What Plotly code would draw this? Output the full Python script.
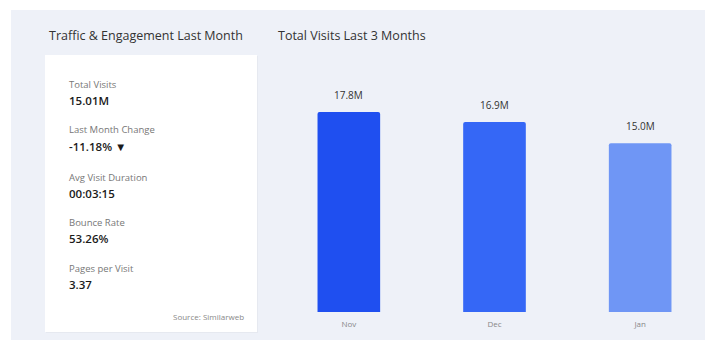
import plotly.graph_objects as go

W, H = 713, 347
OFF = 8  # page body margin in the browser

# ---- data ----
months = ["Nov", "Dec", "Jan"]
visits_m = [17.8, 16.9, 15.01]
bar_labels = ["17.8M", "16.9M", "15.0M"]
bar_colors = ["#1f4ff0", "#3567f6", "#6f96f5"]

kpi_labels = ["Total Visits", "Last Month Change", "Avg Visit Duration", "Bounce Rate", "Pages per Visit"]
kpi_values = ["15.01M", "-11.18% ▼", "00:03:15", "53.26%", "3.37"]
source_note = "Source: Similarweb"

left_title = "Traffic & Engagement Last Month"
right_title = "Total Visits Last 3 Months"


def px(x):
    return (x - OFF) / W


def py(y):
    return 1 - (y - OFF) / H


FONT = "Open Sans, Noto Sans, sans-serif"

fig = go.Figure()
fig.add_trace(go.Bar(
    x=months, y=visits_m,
    marker=dict(color=bar_colors, line=dict(width=0), cornerradius=2),
    width=0.43, hoverinfo="skip",
))

annotations = []
for m, v, t in zip(months, visits_m, bar_labels):
    annotations.append(dict(x=m, y=v, xref="x", yref="y", text=t, showarrow=False,
                            yanchor="bottom", yshift=8,
                            font=dict(family=FONT, size=10, color="#333")))

annotations.append(dict(x=px(47), y=py(35), xref="paper", yref="paper", text=left_title,
                        showarrow=False, xanchor="left", yanchor="middle",
                        font=dict(family=FONT, size=12.5, color="#333")))
annotations.append(dict(x=px(276), y=py(35), xref="paper", yref="paper", text=right_title,
                        showarrow=False, xanchor="left", yanchor="middle",
                        font=dict(family=FONT, size=12.5, color="#333")))

label_ys = [84, 130, 177, 222, 268]
for lab, val, yy in zip(kpi_labels, kpi_values, label_ys):
    annotations.append(dict(x=px(67), y=py(yy), xref="paper", yref="paper", text=lab,
                            showarrow=False, xanchor="left", yanchor="middle",
                            font=dict(family=FONT, size=9.5, color="#777")))
    annotations.append(dict(x=px(67), y=py(yy + 16), xref="paper", yref="paper", text=val,
                            showarrow=False, xanchor="left", yanchor="middle",
                            font=dict(family=FONT, size=11.5, color="#1a1a1a", weight=600)))

annotations.append(dict(x=px(246), y=py(316), xref="paper", yref="paper", text=source_note,
                        showarrow=False, xanchor="right", yanchor="middle",
                        font=dict(family=FONT, size=8, color="#888")))

shapes = [
    dict(type="rect", xref="paper", yref="paper", x0=px(11), x1=1.0, y0=py(340), y1=py(10),
         fillcolor="#eef1f8", line=dict(width=0), layer="below"),
    dict(type="rect", xref="paper", yref="paper", x0=px(46), x1=px(258), y0=py(333), y1=py(56),
         fillcolor="#e6e9f0", line=dict(width=0), layer="below"),
    dict(type="rect", xref="paper", yref="paper", x0=px(45), x1=px(257), y0=py(332), y1=py(55),
         fillcolor="#ffffff", line=dict(width=0), layer="below"),
]

y_top_val = 255 / (200 / visits_m[0])

fig.update_layout(
    width=W, height=H,
    margin=dict(l=0, r=0, t=0, b=0),
    paper_bgcolor="#ffffff", plot_bgcolor="rgba(0,0,0,0)",
    showlegend=False,
    annotations=annotations, shapes=shapes,
    xaxis=dict(domain=[px(276), px(713)], range=[-0.5, 2.5], showgrid=False, zeroline=False,
               showline=False, ticks="", ticklabelstandoff=6,
               tickfont=dict(family=FONT, size=8, color="#888"),
               fixedrange=True),
    yaxis=dict(domain=[py(312), py(57)], range=[0, y_top_val], showgrid=False, zeroline=False,
               showticklabels=False, showline=False, fixedrange=True),
)

fig.write_html("out.html", config={"displayModeBar": False})
